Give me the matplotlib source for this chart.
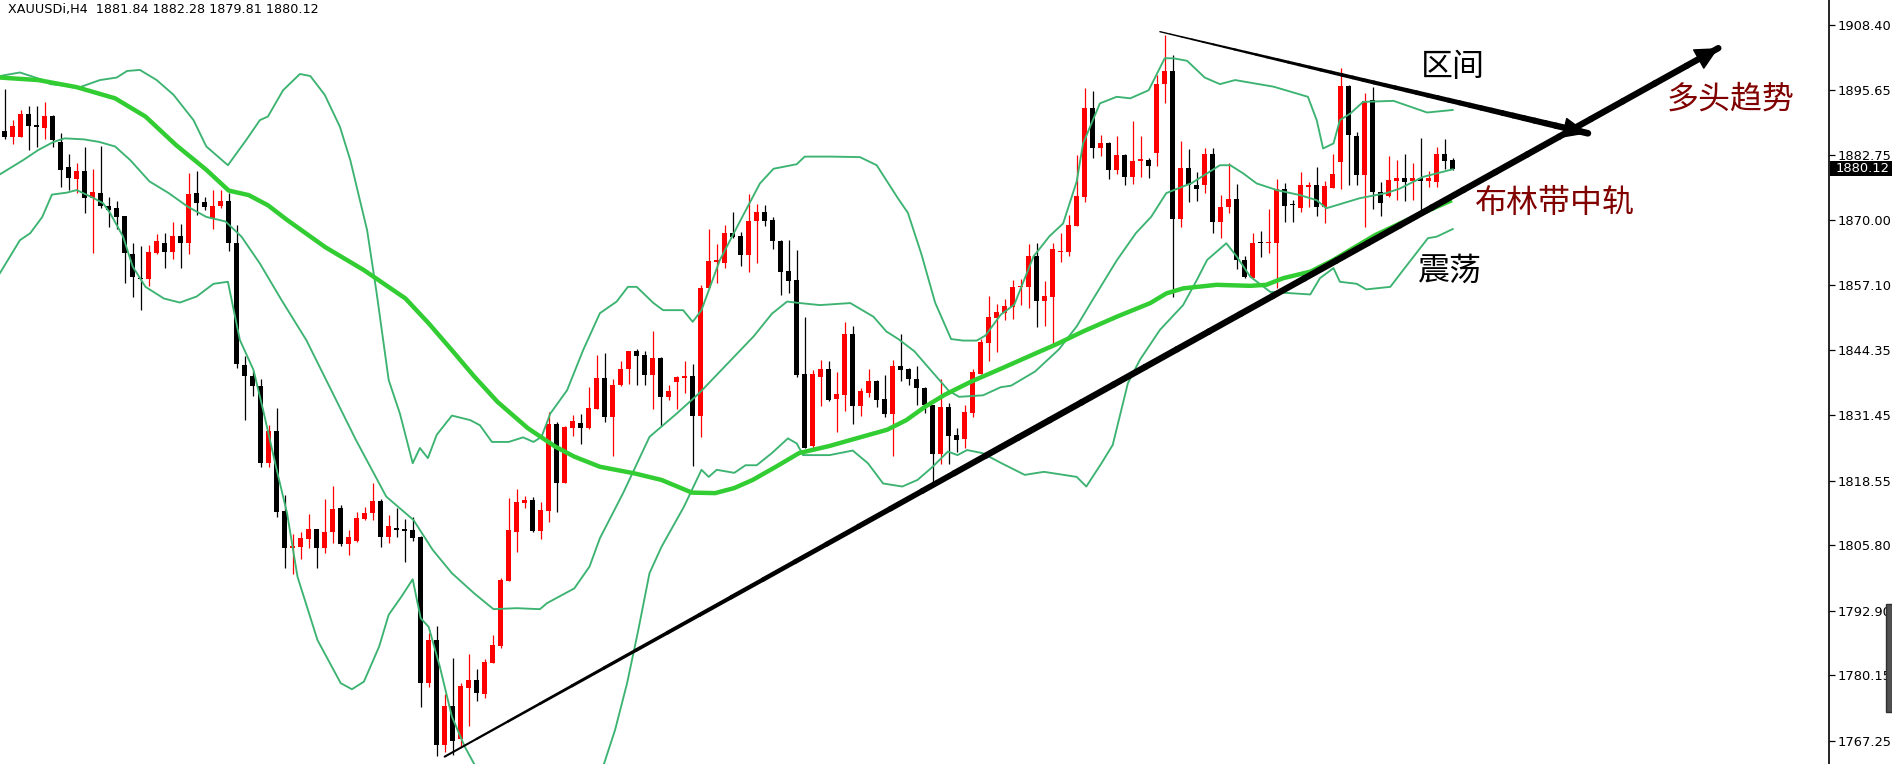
import numpy as np
import matplotlib
matplotlib.use("Agg")
import matplotlib.pyplot as plt
from matplotlib.patches import Rectangle

# candles (H4 bars, oldest first)
opens = [1887.5, 1886.4, 1886.3, 1890.9, 1888.7, 1888.2, 1890.5, 1885.4, 1880.4, 1878.1,
         1879.6, 1874.4, 1875.4, 1872.7, 1872.3, 1870.8, 1863.3, 1858.5, 1858.3, 1863.5,
         1865.4, 1863.7, 1866.8, 1865.4, 1875.4, 1873.5, 1870.2, 1872.7, 1873.7, 1865.4,
         1841.3, 1839.2, 1837.3, 1822.1, 1828.4, 1812.5, 1805.2, 1805.5, 1807.0, 1809.0,
         1805.3, 1808.4, 1813.2, 1806.0, 1806.6, 1811.0, 1812.1, 1814.5, 1807.4, 1809.3,
         1808.8, 1808.8, 1807.4, 1778.7, 1787.2, 1766.4, 1774.1, 1767.5, 1777.7, 1779.2,
         1776.4, 1782.6, 1785.9, 1798.8, 1808.5, 1814.2, 1814.7, 1808.7, 1812.6, 1829.7,
         1818.1, 1829.0, 1829.9, 1829.0, 1832.7, 1838.9, 1831.2, 1837.4, 1840.6, 1844.1,
         1843.3, 1839.4, 1842.8, 1835.1, 1838.1, 1838.9, 1839.2, 1831.4, 1856.6, 1861.8,
         1861.6, 1867.4, 1866.8, 1863.1, 1869.8, 1871.6, 1870.0, 1865.9, 1859.9, 1858.1,
         1839.6, 1825.3, 1839.1, 1840.6, 1834.7, 1835.4, 1847.5, 1833.3, 1835.9, 1838.3,
         1834.6, 1831.7, 1841.1, 1840.5, 1838.7, 1836.9, 1833.5, 1823.9, 1833.1, 1827.5,
         1826.7, 1831.9, 1839.7, 1845.8, 1850.6, 1851.6, 1852.9, 1856.7, 1856.7, 1862.9,
         1854.0, 1854.8, 1863.7, 1863.7, 1868.8, 1874.6, 1892.0, 1884.1, 1885.1, 1879.9,
         1882.8, 1878.5, 1881.7, 1881.8, 1883.3, 1896.8, 1899.4, 1870.1, 1880.3, 1876.9,
         1876.8, 1883.1, 1869.5, 1872.5, 1874.1, 1862.1, 1858.5, 1865.6, 1865.4, 1865.4,
         1876.2, 1873.1, 1872.4, 1876.6, 1876.9, 1872.5, 1876.4, 1881.5, 1896.4, 1886.6,
         1878.9, 1893.7, 1875.6, 1874.7, 1877.7, 1878.3, 1877.7, 1878.2, 1877.6, 1877.4,
         1883.0, 1881.84]
highs = [1895.8, 1889.7, 1891.7, 1892.4, 1892.5, 1893.2, 1890.8, 1887.1, 1883.0, 1881.2,
         1884.3, 1880.0, 1884.6, 1874.5, 1873.7, 1870.8, 1865.4, 1864.8, 1865.0, 1867.3,
         1867.5, 1869.6, 1869.2, 1879.3, 1879.6, 1874.6, 1875.9, 1875.9, 1875.4, 1869.0,
         1843.1, 1840.2, 1838.7, 1829.5, 1832.8, 1815.7, 1808.1, 1808.5, 1812.0, 1809.1,
         1814.9, 1817.5, 1813.7, 1808.8, 1812.4, 1813.4, 1818.0, 1815.0, 1811.8, 1813.2,
         1810.9, 1811.4, 1807.6, 1788.4, 1789.9, 1776.4, 1783.5, 1778.6, 1784.3, 1781.3,
         1783.3, 1788.1, 1799.3, 1815.1, 1817.0, 1815.5, 1815.4, 1814.3, 1832.2, 1830.2,
         1829.3, 1831.5, 1831.7, 1837.1, 1843.3, 1843.8, 1838.7, 1842.2, 1844.2, 1844.5,
         1844.1, 1848.1, 1842.9, 1837.4, 1839.3, 1842.2, 1841.6, 1857.2, 1868.3, 1865.3,
         1869.0, 1871.6, 1867.6, 1875.1, 1873.1, 1872.9, 1870.6, 1866.0, 1866.0, 1864.1,
         1850.9, 1840.4, 1842.4, 1842.2, 1839.9, 1849.8, 1849.1, 1836.8, 1840.5, 1838.4,
         1839.4, 1842.4, 1847.4, 1840.7, 1841.1, 1837.0, 1833.5, 1838.7, 1833.8, 1829.0,
         1833.4, 1840.5, 1846.5, 1855.0, 1853.5, 1854.5, 1858.1, 1858.4, 1865.2, 1865.4,
         1857.9, 1865.4, 1867.4, 1870.9, 1882.8, 1896.0, 1895.4, 1886.8, 1885.4, 1886.6,
         1883.0, 1889.6, 1886.6, 1882.3, 1898.6, 1906.5, 1902.5, 1885.6, 1884.0, 1879.5,
         1884.1, 1884.1, 1874.9, 1881.2, 1877.0, 1862.9, 1867.5, 1867.8, 1872.2, 1878.1,
         1877.2, 1873.9, 1879.5, 1877.5, 1880.5, 1877.7, 1883.1, 1899.9, 1896.6, 1887.4,
         1895.1, 1896.2, 1877.5, 1882.6, 1881.8, 1883.1, 1881.2, 1886.1, 1879.7, 1884.3,
         1886.0, 1882.28]
lows = [1885.9, 1884.9, 1886.3, 1883.9, 1884.3, 1885.9, 1884.3, 1876.6, 1876.0, 1875.4,
        1871.3, 1863.4, 1872.3, 1868.7, 1868.2, 1857.6, 1854.8, 1852.3, 1857.0, 1863.2,
        1860.6, 1862.3, 1860.6, 1863.2, 1871.0, 1871.9, 1868.3, 1872.3, 1863.9, 1840.7,
        1830.6, 1835.2, 1821.2, 1821.2, 1811.4, 1801.4, 1800.1, 1803.1, 1805.2, 1801.4,
        1804.3, 1806.3, 1805.7, 1803.9, 1806.4, 1810.8, 1810.8, 1805.5, 1806.3, 1807.5,
        1802.5, 1806.7, 1773.9, 1777.8, 1764.2, 1765.1, 1764.4, 1766.1, 1770.1, 1775.1,
        1775.6, 1782.5, 1785.5, 1798.8, 1804.5, 1813.1, 1808.5, 1807.1, 1810.4, 1812.4,
        1818.1, 1827.4, 1825.8, 1828.8, 1832.7, 1830.2, 1823.5, 1837.2, 1837.6, 1837.4,
        1837.4, 1832.7, 1829.3, 1834.5, 1832.7, 1835.9, 1821.4, 1827.2, 1856.5, 1857.6,
        1860.6, 1866.4, 1861.0, 1859.8, 1861.6, 1868.8, 1864.3, 1855.2, 1855.6, 1839.1,
        1825.1, 1825.1, 1833.3, 1834.3, 1828.2, 1832.4, 1829.7, 1831.4, 1835.1, 1833.1,
        1831.2, 1823.5, 1838.2, 1837.5, 1833.4, 1831.9, 1818.0, 1821.8, 1821.8, 1824.3,
        1825.1, 1831.1, 1839.7, 1842.1, 1844.0, 1850.3, 1850.4, 1853.3, 1852.7, 1848.9,
        1849.0, 1845.2, 1861.7, 1862.9, 1868.8, 1873.6, 1882.3, 1882.6, 1878.1, 1879.1,
        1876.9, 1877.1, 1878.5, 1878.2, 1880.6, 1893.0, 1854.8, 1868.7, 1873.6, 1873.8,
        1875.4, 1867.5, 1866.4, 1871.4, 1860.4, 1858.5, 1858.5, 1862.7, 1863.5, 1856.5,
        1869.6, 1869.5, 1871.6, 1872.6, 1870.8, 1869.3, 1876.4, 1876.2, 1876.9, 1876.9,
        1868.7, 1872.2, 1870.8, 1874.6, 1873.9, 1873.8, 1873.9, 1872.0, 1876.6, 1876.6,
        1880.0, 1879.81]
closes = [1886.4, 1888.5, 1890.9, 1888.6, 1888.3, 1890.5, 1885.8, 1879.8, 1878.2, 1879.6,
          1874.4, 1875.5, 1872.7, 1871.9, 1870.6, 1863.4, 1858.7, 1858.3, 1863.6, 1865.8,
          1863.7, 1866.8, 1865.4, 1875.2, 1873.4, 1872.5, 1872.7, 1873.7, 1865.4, 1841.6,
          1839.2, 1837.3, 1822.1, 1828.4, 1812.4, 1805.2, 1805.6, 1807.3, 1809.0, 1805.3,
          1808.4, 1812.9, 1806.0, 1807.5, 1811.2, 1812.2, 1814.6, 1807.4, 1809.7, 1808.8,
          1808.7, 1807.2, 1778.7, 1787.2, 1766.4, 1774.1, 1767.2, 1778.0, 1779.2, 1776.6,
          1782.8, 1786.1, 1798.9, 1808.8, 1814.3, 1814.7, 1808.7, 1812.8, 1829.7, 1818.1,
          1829.2, 1830.3, 1829.0, 1832.9, 1838.9, 1831.2, 1837.4, 1840.6, 1844.1, 1843.2,
          1839.4, 1842.8, 1835.1, 1836.2, 1839.1, 1839.2, 1831.4, 1856.6, 1861.9, 1861.9,
          1867.4, 1866.6, 1863.1, 1869.8, 1871.6, 1869.8, 1865.9, 1859.8, 1857.9, 1839.4,
          1825.1, 1839.7, 1840.6, 1834.5, 1835.6, 1847.5, 1833.3, 1836.2, 1838.2, 1834.5,
          1831.7, 1841.2, 1840.4, 1838.7, 1836.8, 1833.5, 1823.9, 1833.1, 1827.3, 1826.5,
          1832.1, 1839.9, 1846.0, 1850.8, 1851.8, 1853.0, 1856.7, 1856.9, 1862.9, 1854.0,
          1855.0, 1864.2, 1863.9, 1869.0, 1874.8, 1892.0, 1884.1, 1885.1, 1879.9, 1882.8,
          1878.5, 1881.6, 1881.8, 1880.7, 1896.8, 1899.4, 1870.1, 1880.3, 1876.8, 1876.2,
          1883.1, 1869.6, 1872.5, 1874.1, 1862.1, 1858.7, 1865.4, 1865.4, 1865.6, 1876.2,
          1872.8, 1872.9, 1876.8, 1876.9, 1872.5, 1876.7, 1879.1, 1896.4, 1886.7, 1878.9,
          1893.5, 1875.6, 1873.3, 1877.9, 1878.3, 1877.4, 1878.3, 1877.6, 1878.2, 1883.0,
          1881.7, 1880.12]

# bollinger upper band (bar index, price)
upper_x = [-0.6, 1.9, 4.8, 5.7, 9.4, 11.9, 14.0, 15.3, 16.9, 19.0, 21.1, 23.6, 25.2, 27.9,
           30.2, 31.9, 32.9, 34.8, 36.9, 38.2, 40.0, 41.9, 43.2, 44.4, 45.3, 46.5, 48.0,
           49.4, 51.0, 51.9, 52.9, 54.0, 55.9, 58.2, 59.4, 60.9, 63.0, 64.8, 66.1, 67.1,
           68.2, 70.3, 72.3, 74.4, 76.5, 77.9, 79.0, 81.1, 82.3, 84.8, 86.0, 87.1, 89.4,
           91.9, 94.4, 96.1, 99.0, 100.0, 103.2, 106.9, 109.0, 111.6, 112.9, 114.6, 116.3,
           118.3, 119.8, 121.5, 122.6, 124.5, 126.2, 128.6, 130.6, 132.3, 134.0, 134.8,
           136.9, 139.0, 140.7, 143.0, 145.0, 146.1, 147.8, 150.0, 151.9, 153.8, 158.6,
           162.9, 164.0, 164.8, 166.1, 166.9, 168.2, 169.8, 173.6, 177.8, 181.0]
upper_y = [1898.4, 1899.1, 1897.6, 1896.8, 1896.2, 1897.6, 1898.1, 1899.4, 1899.6, 1897.6,
           1894.7, 1889.7, 1884.5, 1880.8, 1885.8, 1889.7, 1890.4, 1895.6, 1898.8, 1898.4,
           1894.7, 1888.4, 1881.8, 1873.9, 1868.0, 1855.5, 1838.4, 1831.8, 1822.0, 1825.0,
           1823.0, 1827.6, 1831.4, 1830.5, 1829.5, 1826.2, 1826.2, 1827.1, 1826.2, 1827.2,
           1831.8, 1836.4, 1844.3, 1851.6, 1853.9, 1856.8, 1856.8, 1853.6, 1852.2, 1852.2,
           1849.9, 1852.2, 1862.1, 1869.7, 1877.2, 1880.1, 1881.0, 1882.5, 1882.5, 1882.4,
           1880.8, 1874.4, 1871.4, 1863.2, 1853.7, 1846.5, 1846.2, 1846.2, 1847.2, 1851.3,
           1853.3, 1862.8, 1866.8, 1869.3, 1877.6, 1885.1, 1893.0, 1894.3, 1894.0, 1895.6,
           1901.9, 1901.9, 1901.4, 1898.1, 1896.8, 1897.6, 1896.3, 1894.3, 1889.7, 1884.1,
           1885.1, 1889.7, 1891.0, 1893.3, 1893.5, 1891.2, 1891.7]

# bollinger middle band
mid_x = [-0.6, 2.3, 4.2, 6.1, 7.5, 9.9, 11.8, 13.8, 15.7, 18.1, 20.5, 22.9, 25.2, 27.6,
         29.6, 31.9, 34.6, 37.7, 40.6, 43.9, 47.7, 51.1, 53.5, 55.9, 58.7, 61.1, 64.0,
         66.9, 67.8, 71.2, 73.1, 74.4, 77.3, 80.6, 84.0, 86.8, 90.2, 93.6, 95.9, 97.8,
         99.4, 101.9, 105.7, 108.6, 110.2, 111.7, 113.7, 115.9, 118.0, 119.3, 122.3,
         124.5, 125.8, 128.8, 131.8, 134.0, 135.9, 139.0, 141.4, 143.3, 145.2, 148.4,
         151.9, 153.2, 154.8, 156.5, 159.0, 161.9, 164.0, 165.2, 169.4, 172.7, 174.4,
         177.3, 181.0]
mid_y = [1879.0, 1881.8, 1883.8, 1885.4, 1886.1, 1885.9, 1885.4, 1884.5, 1881.8, 1877.6,
         1875.3, 1872.6, 1870.6, 1869.7, 1866.7, 1861.4, 1854.2, 1846.3, 1837.1, 1826.6,
         1815.4, 1810.8, 1804.9, 1800.3, 1796.3, 1793.2, 1793.4, 1793.2, 1794.4, 1797.3,
         1801.6, 1807.2, 1816.1, 1827.2, 1831.8, 1835.8, 1841.4, 1847.0, 1851.5, 1853.9,
         1853.6, 1853.2, 1853.6, 1850.9, 1848.0, 1846.5, 1844.1, 1840.1, 1836.3, 1835.1,
         1835.4, 1837.0, 1837.3, 1840.1, 1844.5, 1849.0, 1854.0, 1862.0, 1867.4, 1870.6,
         1875.3, 1877.3, 1880.8, 1880.8, 1879.2, 1877.2, 1875.9, 1874.9, 1873.9, 1872.3,
         1874.3, 1875.3, 1876.2, 1878.5, 1880.0]

# bollinger lower band (runs below the visible range between the two parts)
low_x = [-0.6, 1.9, 3.2, 4.7, 5.9, 7.8, 9.0, 11.0, 12.3, 13.2, 14.8, 16.0, 17.6, 19.9,
         21.9, 24.0, 26.1, 27.9, 29.4, 31.1, 32.3, 34.0, 35.3, 36.6, 39.1, 42.0, 43.4,
         44.9, 46.8, 48.0, 49.6, 51.0, 52.0, 53.0, 54.4, 55.9, 57.5, 58.7, 59.5, np.nan,
         74.4, 76.3, 77.8, 79.2, 80.6, 82.1, 84.9, 87.1, 88.0, 89.0, 91.2, 92.6, 94.0,
         95.9, 97.9, 99.0, 99.8, 103.1, 106.0, 107.9, 109.8, 112.2, 114.1, 116.0, 117.9,
         119.1, 120.3, 122.2, 124.6, 127.5, 129.9, 134.0, 135.2, 137.1, 138.5, 140.4,
         141.9, 144.4, 147.3, 149.0, 150.3, 152.7, 154.0, 155.7, 158.2, 163.2, 164.4,
         166.1, 166.9, 169.0, 170.2, 173.2, 174.8, 177.9, 179.0, 181.0]
low_y = [1859.5, 1866.0, 1867.4, 1870.6, 1875.0, 1875.4, 1875.9, 1874.4, 1873.3, 1871.3,
         1866.7, 1860.8, 1856.8, 1854.5, 1853.7, 1854.9, 1857.4, 1857.8, 1846.3, 1840.4,
         1832.5, 1820.7, 1812.1, 1799.6, 1787.1, 1778.6, 1777.4, 1778.9, 1785.8, 1792.1,
         1795.7, 1799.1, 1791.4, 1789.7, 1781.8, 1772.0, 1766.1, 1762.6, 1760.3, np.nan,
         1760.2, 1769.4, 1778.6, 1789.1, 1800.3, 1805.5, 1813.4, 1820.7, 1819.3, 1820.7,
         1820.1, 1821.6, 1821.6, 1824.0, 1826.9, 1825.9, 1823.6, 1823.6, 1824.5, 1822.0,
         1818.0, 1817.4, 1818.7, 1821.3, 1824.3, 1823.6, 1824.6, 1824.0, 1822.0, 1819.7,
         1820.3, 1819.3, 1817.4, 1822.0, 1825.6, 1837.8, 1842.4, 1848.3, 1853.2, 1858.1,
         1862.1, 1865.4, 1862.8, 1858.8, 1855.8, 1855.3, 1858.5, 1860.5, 1857.8, 1857.4,
         1856.3, 1856.8, 1860.1, 1866.4, 1866.7, 1868.2]

# slow moving average (thick line)
ma_x = [-0.6, 4.2, 9.0, 13.8, 17.6, 21.4, 25.2, 28.0, 30.5, 32.9, 35.3, 40.1, 44.9, 50.1,
        53.0, 55.9, 58.7, 61.6, 65.4, 68.8, 71.2, 74.4, 78.7, 82.1, 85.9, 88.8, 91.2,
        93.5, 96.4, 99.3, 103.1, 106.9, 110.3, 112.7, 115.1, 117.5, 120.8, 124.6, 128.9,
        131.5, 134.8, 139.0, 143.2, 145.2, 147.3, 151.5, 155.7, 157.7, 159.8, 163.2,
        166.1, 168.2, 171.3, 176.0, 180.9]
ma_y = [1898.1, 1897.6, 1896.2, 1894.0, 1890.4, 1884.8, 1879.9, 1875.8, 1874.9, 1872.9,
        1870.0, 1864.6, 1860.1, 1854.5, 1849.6, 1844.3, 1839.1, 1834.1, 1828.9, 1825.3,
        1823.3, 1821.3, 1820.0, 1818.7, 1816.2, 1816.1, 1817.1, 1818.7, 1821.3, 1824.0,
        1825.4, 1827.1, 1828.6, 1830.5, 1833.2, 1835.5, 1838.1, 1840.7, 1843.7, 1845.5,
        1848.0, 1850.9, 1853.6, 1855.5, 1856.5, 1857.2, 1857.0, 1857.2, 1858.5, 1859.8,
        1862.1, 1864.1, 1867.0, 1870.5, 1873.9]

price_ticks = [1908.40, 1895.65, 1882.75, 1870.00, 1857.10, 1844.35, 1831.45,
               1818.55, 1805.80, 1792.90, 1780.15, 1767.25]
header = "XAUUSDi,H4  1881.84 1882.28 1879.81 1880.12"
last_price = 1880.12

W, H = 1892, 764
AX_RIGHT = 1829
fig = plt.figure(figsize=(W / 100, H / 100), dpi=100)
ax = fig.add_axes([0, 0, AX_RIGHT / W, 1])
ax.set_xlim(-0.5875, (AX_RIGHT - 4.7) / 8)
ax.set_ylim(1762.65, 1913.40)

# candles
x = np.arange(len(opens))
o = np.array(opens); c = np.array(closes)
cols = np.where(c >= o, "#ff0000", "#000000")
ax.vlines(x, lows, highs, colors=cols, lw=0.9, zorder=2)
body = np.maximum(np.abs(c - o), 0.25)
ax.bar(x, body, bottom=np.minimum(o, c), width=0.62, color=cols, linewidth=0, zorder=2)

# indicator lines
band = "#3cb371"
ax.plot(upper_x, upper_y, color=band, lw=1.35, zorder=3)
ax.plot(mid_x, mid_y, color=band, lw=1.35, zorder=3)
ax.plot(low_x, low_y, color=band, lw=1.35, zorder=3)
ax.plot(ma_x, ma_y, color="#32cd32", lw=3.2, zorder=3, solid_capstyle="butt")


def tapered_arrow(p0, p1, w0, w1, t_full, head_len, head_w, n=40):
    # shaft gets thicker towards the tip, head drawn with annotate
    for i in range(n):
        ta, tb = i / n, (i + 1) / n
        w = w0 + (w1 - w0) * min(tb / t_full, 1.0)
        ax.plot([p0[0] + (p1[0] - p0[0]) * ta, p0[0] + (p1[0] - p0[0]) * tb],
                [p0[1] + (p1[1] - p0[1]) * ta, p0[1] + (p1[1] - p0[1]) * tb],
                color="black", lw=w, solid_capstyle="round", zorder=5)
    back = (p0[0] + (p1[0] - p0[0]) * 0.9, p0[1] + (p1[1] - p0[1]) * 0.9)
    ax.annotate("", xy=p1, xytext=back, zorder=6,
                arrowprops=dict(arrowstyle=f"-|>,head_length={head_len},head_width={head_w}",
                                color="black", lw=1, mutation_scale=10, shrinkA=0, shrinkB=0))


# rising trend arrow and falling range arrow
tapered_arrow((55.0, 1764.1), (214.2, 1903.9), 1.3, 4.6, 0.45, 1.5, 0.75)
tapered_arrow((144.4, 1907.15), (197.9, 1887.1), 0.9, 4.8, 1.0, 1.6, 0.68)

# annotations
cjk = ["Noto Sans CJK SC", "DejaVu Sans"]
ax.text(181.0, 1900.2, "区间", fontsize=23, family=cjk, color="black", ha="center", va="center", zorder=7)
ax.text(215.75, 1893.7, "多头趋势", fontsize=23, family=cjk, color="#800000", ha="center", va="center", zorder=7)
ax.text(193.8, 1873.3, "布林带中轨", fontsize=23, family=cjk, color="#800000", ha="center", va="center", zorder=7)
ax.text(180.7, 1859.9, "震荡", fontsize=23, family=cjk, color="black", ha="center", va="center", zorder=7)

# price axis on the right
for s in ["top", "left", "bottom"]:
    ax.spines[s].set_visible(False)
ax.spines["right"].set_linewidth(1.2)
ax.set_xticks([])
ax.yaxis.tick_right()
ax.set_yticks(price_ticks)
ax.set_yticklabels([f"{v:.2f}" for v in price_ticks])
ax.tick_params(axis="y", direction="out", length=4, width=0.9, pad=2, labelsize=9.4)

fig.text(8 / W, 1 - 9.5 / H, header, fontsize=9.2, ha="left", va="center")

# last price box
yp = ax.transData.transform((0, last_price))[1] / H
fig.add_artist(Rectangle((1830 / W, yp - 7.5 / H), 62 / W, 15 / H, transform=fig.transFigure,
                         facecolor="black", edgecolor="none", zorder=4))
fig.text(1835.5 / W, yp, f"{last_price:.2f}", color="white", fontsize=9.4, ha="left",
         va="center", zorder=5)

# scroll handle at the right edge
fig.add_artist(Rectangle((1886 / W, 1 - 712 / H), 6 / W, 108 / H, transform=fig.transFigure,
                         facecolor="#505050", edgecolor="#303030", zorder=4))

fig.savefig("out.png", dpi=100, facecolor="white")
